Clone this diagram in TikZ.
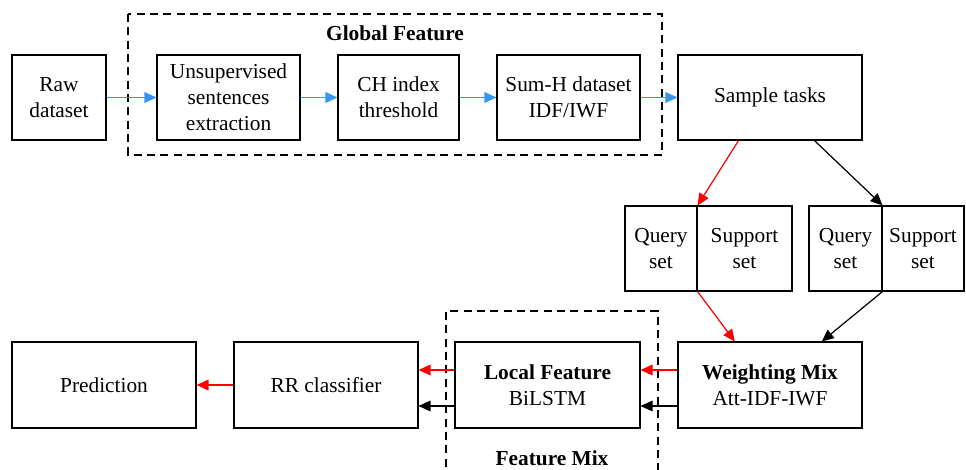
\documentclass[tikz,border=0pt]{standalone}
\usepackage{fontspec}
\setmainfont{Liberation Serif}
\usetikzlibrary{arrows.meta,calc}
\definecolor{arrblue}{RGB}{55,150,245}
\def\pxu{0.75pt}
\tikzset{
  box/.style={draw, line width=0.8pt, inner sep=0pt, align=center,
    font=\fontsize{16}{19.5}\selectfont, minimum height=85*\pxu},
  tip/.style={-{Triangle[length=9pt,width=8pt]}},
  bluearr/.style={tip, draw=arrblue, fill=arrblue, line width=1pt},
  redarr/.style={tip, draw=red, fill=red, line width=0.9pt},
  blackarr/.style={tip, draw=black, fill=black, line width=0.9pt},
  groupbox/.style={draw, line width=0.8pt, dash pattern=on 6pt off 4pt},
  grouplabel/.style={font=\fontsize{16}{19.5}\selectfont\bfseries},
}
\begin{document}
\begin{tikzpicture}[x=0.75pt,y=-0.75pt]
\useasboundingbox (0,0) rectangle (966,470);
% groups
\draw[groupbox] (128,14) rectangle (662,155);
\node[grouplabel] (gftitle) at (395,33) {Global Feature};
\draw[groupbox] (446,480) -- (446,311) -- (658,311) -- (658,480);
\node[grouplabel] (fmtitle) at (552,458) {Feature Mix};
% top row
\node[box, minimum width=94*\pxu] (raw) at (59,97.5) {Raw\\dataset};
\node[box, minimum width=143*\pxu] (uns) at (228.5,97.5) {Unsupervised\\sentences\\extraction};
\node[box, minimum width=121*\pxu] (ch) at (398.5,97.5) {CH index\\threshold};
\node[box, minimum width=143*\pxu] (sum) at (568.5,97.5) {Sum-H dataset\\IDF/IWF};
\node[box, minimum width=184*\pxu] (st) at (770,97.5) {Sample tasks};
% sets
\node[box, minimum width=72*\pxu] (qs1) at (661,248.5) {Query\\set};
\node[box, minimum width=95*\pxu] (ss1) at (744.5,248.5) {Support\\set};
\node[box, minimum width=73*\pxu] (qs2) at (845.5,248.5) {Query\\set};
\node[box, minimum width=82*\pxu] (ss2) at (923,248.5) {Support\\set};
% bottom row
\node[box, minimum width=184*\pxu, minimum height=86*\pxu] (wm) at (770,385) {\textbf{Weighting Mix}\\Att-IDF-IWF};
\node[box, minimum width=185*\pxu, minimum height=86*\pxu] (lf) at (547.5,385) {\textbf{Local Feature}\\BiLSTM};
\node[box, minimum width=184*\pxu, minimum height=86*\pxu] (rr) at (326,385) {RR classifier};
\node[box, minimum width=184*\pxu, minimum height=86*\pxu] (pred) at (104,385) {Prediction};
% blue arrows
\draw[bluearr] (raw.east) -- (uns.west);
\draw[bluearr] (uns.east) -- (ch.west);
\draw[bluearr] (ch.east) -- (sum.west);
\draw[bluearr] (sum.east) -- (st.west);
% sample tasks to sets
\draw[redarr] ($(st.south west)!0.33!(st.south east)$) -- (qs1.north east);
\draw[blackarr] ($(st.south west)!0.74!(st.south east)$) -- (qs2.north east);
% sets to weighting mix
\draw[redarr] (qs1.south east) -- ($(wm.north west)!0.31!(wm.north east)$);
\draw[blackarr] (qs2.south east) -- ($(wm.north west)!0.78!(wm.north east)$);
% bottom arrows
\draw[redarr] ([yshift=11.25pt]wm.west) -- ([yshift=11.25pt]lf.east);
\draw[blackarr] ([yshift=-15.75pt]wm.west) -- ([yshift=-15.75pt]lf.east);
\draw[redarr] ([yshift=11.25pt]lf.west) -- ([yshift=11.25pt]rr.east);
\draw[blackarr] ([yshift=-15.75pt]lf.west) -- ([yshift=-15.75pt]rr.east);
\draw[redarr] (rr.west) -- (pred.east);
\end{tikzpicture}
\end{document}
